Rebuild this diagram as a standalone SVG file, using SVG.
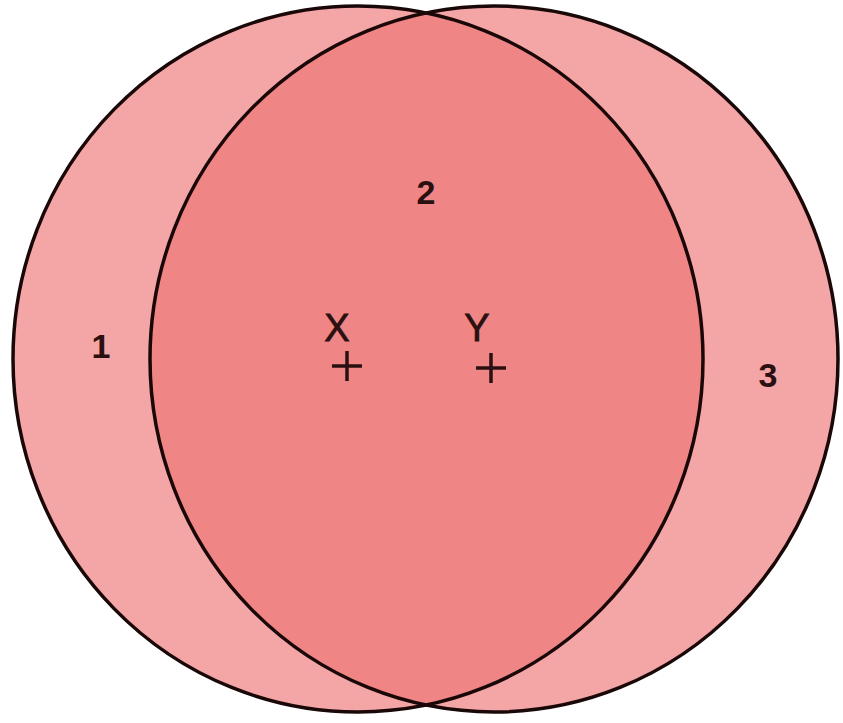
<svg xmlns="http://www.w3.org/2000/svg" width="843" height="723" viewBox="0 0 843 723">
<style>
.ring{stroke:#1a0808;stroke-width:3.5;fill:none}
.outer{fill:#F4A5A5}
.inner{fill:#F08585}
.lbl{font-family:"Liberation Sans",Arial,sans-serif;fill:#2a1010;text-anchor:middle}
.num{font-size:34px;font-weight:bold}
.let{font-size:38px}
.plus{stroke:#2a1010;stroke-width:3.5}
</style>
<defs>
<clipPath id="clipL"><ellipse cx="358" cy="359" rx="345" ry="353"/></clipPath>
</defs>
<rect width="843" height="723" fill="#ffffff"/>
<g id="circle-left"><ellipse class="outer" cx="358" cy="359" rx="345" ry="353"/></g>
<g id="circle-right"><ellipse class="outer" cx="494" cy="359" rx="344" ry="353"/></g>
<g id="overlap"><ellipse class="inner" cx="494" cy="359" rx="344" ry="353" clip-path="url(#clipL)"/></g>
<g id="outlines">
<ellipse class="ring" cx="358" cy="359" rx="345" ry="353"/>
<ellipse class="ring" cx="494" cy="359" rx="344" ry="353"/>
</g>
<g id="labels">
<text class="lbl num" x="101" y="358">1</text>
<text class="lbl num" x="426" y="204">2</text>
<text class="lbl num" x="768" y="387">3</text>
<text class="lbl let" x="337" y="341" stroke="#2a1010" stroke-width="0.8">X</text>
<text class="lbl let" x="477" y="341" stroke="#2a1010" stroke-width="0.8">Y</text>
</g>
<g id="points">
<path class="plus" d="M332 366H362M347 351V381"/>
<path class="plus" d="M476 368H506M491 353V383"/>
</g>
</svg>
